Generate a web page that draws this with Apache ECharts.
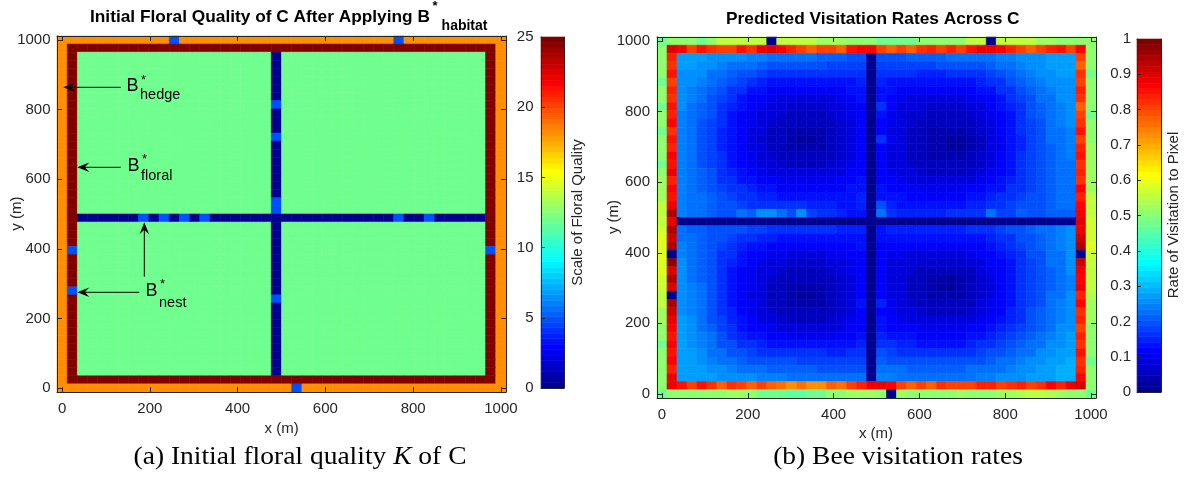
<!DOCTYPE html>
<html>
<head>
<meta charset="utf-8">
<script src="https://cdn.jsdelivr.net/npm/echarts@6/dist/echarts.min.js"></script>
<style>
  html, body { margin: 0; padding: 0; background: #ffffff; }
  #chart { width: 1189px; height: 480px; }
</style>
</head>
<body>
<div id="chart"></div>
<script>
// ---------------------------------------------------------------
// Landscape C: a 44 x 44 grid of pixels spanning 0..1000 m
// ---------------------------------------------------------------
const N = 44;
const CELL = 1000 / (N - 1);
const ROAD_COL = 21;
const ROAD_ROW = 22;

const axisTickValues = [0, 200, 400, 600, 800, 1000];
const floralScaleMax = 25;
const visitScaleMax = 1;

// Floral quality K, rows listed top -> bottom, run-length coded.
// o = field edge, h = hedgerow, f = floral field, r = road, n = nest
const floralLevels = { o: 18, h: 25, f: 12, r: 0, n: 5 };
const FIELD_ROW = 'o1 h1 f19 r1 f20 h1 o1';
const ROAD_NEST_ROW = 'o1 h1 f19 n1 f20 h1 o1';
const floralRuns = [
  'o11 n1 o21 n1 o10',
  'o1 h42 o1',
  FIELD_ROW, FIELD_ROW, FIELD_ROW, FIELD_ROW, FIELD_ROW, FIELD_ROW,
  ROAD_NEST_ROW,
  FIELD_ROW, FIELD_ROW, FIELD_ROW,
  ROAD_NEST_ROW,
  FIELD_ROW, FIELD_ROW, FIELD_ROW, FIELD_ROW, FIELD_ROW, FIELD_ROW, FIELD_ROW,
  ROAD_NEST_ROW,
  ROAD_NEST_ROW,
  'o1 h1 r6 n1 r1 n1 r1 n1 r1 n1 r18 n1 r2 n1 r5 h1 o1',
  FIELD_ROW, FIELD_ROW, FIELD_ROW,
  'o1 n1 f19 r1 f20 n1 o1',
  FIELD_ROW, FIELD_ROW, FIELD_ROW, FIELD_ROW,
  'o1 n1 f19 r1 f20 h1 o1',
  ROAD_NEST_ROW,
  FIELD_ROW, FIELD_ROW, FIELD_ROW, FIELD_ROW, FIELD_ROW, FIELD_ROW, FIELD_ROW, FIELD_ROW, FIELD_ROW,
  'o1 h42 o1',
  'o23 n1 o20'
];

// Predicted visitation rate (percent of 1)
const visitRoad = 1;
// outer ring: top/bottom rows left -> right, side columns top -> bottom (rows 1..42)
const visitEdgeTop = '48 50 50 50 48 50 56 56 56 55 55 1 56 56 55 55 52 52 52 50 50 50 48 48 48 48 50 50 50 50 50 56 56 1 56 56 56 55 52 52 50 50 50 50';
const visitEdgeBottom = '48 50 50 50 50 50 50 52 52 50 48 48 47 46 46 47 48 50 50 52 52 52 50 1 52 50 50 50 50 50 52 50 50 50 52 52 54 56 56 54 52 50 50 48';
const visitEdgeLeft = '50 50 50 50 48 50 50 48 50 50 48 50 50 50 48 50 52 52 53 55 56 56 57 58 58 58 58 58 57 57 56 55 53 52 50 50 48 50 50 50 50 50';
const visitEdgeRight = '50 50 50 48 50 50 50 50 48 50 50 50 52 52 52 52 53 53 55 56 56 57 57 57 58 57 56 55 55 55 54 53 52 52 50 50 50 50 48 50 50 50';
// hedgerow ring: top/bottom cols 1..42, sides rows 2..41
const visitHedgeTop = '90 86 80 85 82 80 80 85 82 88 90 87 83 80 78 81 80 78 85 86 87 81 78 80 78 82 83 81 83 81 85 88 88 86 83 81 78 81 83 85 81 86';
const visitHedgeBottom = '88 85 80 85 82 78 82 80 77 80 78 75 73 75 72 73 77 75 80 84 88 88 87 80 77 80 78 82 81 80 81 84 83 81 82 84 80 82 86 84 88 92';
const visitHedgeLeft = '84 82 85 80 84 82 85 83 86 82 85 84 87 85 88 83 86 85 88 95 89 94 91 94 1 97 90 94 90 1 94 91 88 86 85 87 85 86 84 88';
const visitHedgeRight = '80 78 82 80 84 82 78 80 82 85 80 83 85 82 84 82 86 84 87 88 90 89 91 95 1 91 88 86 88 84 86 82 84 80 84 82 85 82 84 87';
// field quadrants (rows top -> bottom)
const visitFieldNW = [
  '27 27 27 26 26 25 25 24 24 23 23 22 22 22 21 21 21 20 20',
  '27 27 26 25 24 23 22 22 21 20 20 19 19 19 19 18 18 18 18',
  '26 26 25 23 22 21 20 19 18 17 17 16 16 16 16 16 16 16 16',
  '26 25 24 22 21 19 18 16 15 14 14 13 13 13 13 13 14 14 15',
  '25 24 23 21 19 17 16 14 13 12 11 11 11 11 11 11 12 13 14',
  '25 24 22 20 18 16 14 12 11 10 9 9 9 9 9 9 10 11 13',
  '25 23 21 19 17 15 13 11 10 9 8 7 7 7 7 8 9 10 12',
  '24 23 21 19 16 14 12 10 9 8 7 6 6 6 6 7 8 10 12',
  '24 22 20 18 16 13 11 10 8 7 6 5 5 5 5 6 7 9 11',
  '24 22 20 18 15 13 11 9 8 6 5 4 4 4 4 5 7 9 11',
  '24 22 20 18 15 13 11 9 7 6 5 4 3 3 4 5 7 9 11',
  '24 22 20 18 15 13 11 9 8 6 5 4 4 4 4 5 7 9 11',
  '24 22 20 18 16 13 11 10 8 7 6 5 5 5 5 6 7 9 11',
  '24 22 20 18 16 14 12 10 9 8 7 6 6 6 6 7 8 10 12',
  '24 22 21 19 17 15 13 11 10 9 8 8 8 8 8 8 9 11 12',
  '24 23 21 19 17 16 14 13 12 11 10 10 10 10 10 10 11 12 13',
  '24 23 21 20 18 17 16 15 14 13 12 12 12 12 12 12 12 13 14',
  '24 23 22 21 19 18 17 16 15 15 14 14 14 14 14 13 13 14 15',
  '24 23 22 21 20 19 18 17 17 16 16 16 16 15 15 15 14 14 15',
  '24 23 22 21 20 20 22 21 26 25 23 20 25 18 17 16 15 14 14'
];
const visitFieldNE = [
  '20 20 20 21 21 21 21 22 22 22 23 23 24 24 25 25 26 27 27 27',
  '18 18 18 18 18 18 19 19 19 20 20 21 22 23 24 25 26 27 28 27',
  '16 16 16 16 15 15 15 16 16 17 17 18 19 21 22 24 25 26 27 27',
  '15 14 14 13 13 13 13 13 14 14 15 16 17 19 21 22 24 25 26 26',
  '14 13 12 11 11 11 11 11 11 12 13 14 16 17 19 21 23 24 25 26',
  '13 11 10 9 9 9 9 9 9 10 11 12 14 16 18 20 22 23 25 25',
  '16 11 9 8 8 7 7 7 7 8 9 11 13 15 17 19 21 23 24 25',
  '13 10 9 7 7 6 6 6 6 7 8 10 12 14 17 19 21 22 24 25',
  '12 10 8 7 6 5 5 5 5 6 7 9 11 14 16 18 20 22 24 25',
  '12 9 8 6 5 4 4 4 4 5 7 9 11 13 16 18 20 22 23 24',
  '17 10 8 6 5 4 4 3 3 4 6 8 10 13 15 18 20 22 23 24',
  '12 9 8 6 5 4 4 3 3 4 6 8 10 13 15 18 20 21 23 24',
  '11 9 8 6 5 4 4 4 4 5 7 9 11 13 16 18 20 21 23 24',
  '11 9 8 7 6 5 5 5 5 6 7 9 11 14 16 18 20 21 22 23',
  '12 10 9 8 7 6 6 6 6 7 8 10 12 14 16 18 19 21 22 23',
  '12 11 10 9 8 8 8 8 8 9 10 11 13 15 17 18 19 21 22 23',
  '13 12 11 11 10 10 10 10 10 11 12 13 14 16 17 18 20 21 22 22',
  '14 13 13 12 12 12 12 12 12 13 14 15 16 17 18 19 20 21 22 22',
  '19 15 14 14 14 14 14 14 14 15 15 16 17 18 19 20 20 21 22 22',
  '22 16 15 15 15 15 15 16 16 16 17 22 18 18 21 19 20 21 21 21'
];
const visitFieldSW = [
  '22 21 21 20 20 19 19 18 18 17 17 17 16 16 16 16 15 15 15',
  '23 22 21 20 19 18 17 16 15 15 14 14 14 14 14 14 14 14 14',
  '24 22 21 20 18 17 15 14 13 12 12 12 11 11 11 12 12 12 13',
  '24 23 21 19 17 16 14 12 11 10 10 9 9 9 9 10 10 11 12',
  '25 23 21 19 17 15 13 11 10 9 8 7 7 7 7 8 9 10 12',
  '25 23 21 19 16 14 12 10 9 8 7 6 6 6 6 7 8 10 11',
  '25 23 21 19 16 14 12 10 8 7 6 5 5 5 5 6 7 9 11',
  '26 24 22 19 16 14 12 10 8 6 5 4 4 4 4 5 7 9 11',
  '26 24 22 19 16 14 11 9 8 6 5 4 3 3 4 5 7 9 11',
  '26 24 22 19 17 14 12 10 8 6 5 4 4 4 4 5 7 9 13',
  '26 24 22 20 17 15 12 10 8 7 6 5 5 5 5 6 7 9 11',
  '27 25 23 20 18 15 13 11 9 8 7 6 6 6 6 7 8 10 12',
  '27 25 23 21 18 16 14 12 11 10 9 8 8 8 8 8 9 11 12',
  '27 26 24 22 19 17 15 14 13 12 11 10 10 10 10 10 11 12 13',
  '28 26 24 22 20 19 17 16 15 14 13 13 13 13 13 13 13 14 15',
  '28 27 25 23 22 20 19 18 17 16 16 16 16 16 16 15 15 16 16',
  '28 27 26 24 23 22 21 20 19 19 19 19 18 18 18 18 18 18 18',
  '28 28 27 26 25 24 23 22 22 21 21 21 21 21 20 20 20 20 20',
  '28 28 27 27 26 26 25 25 24 24 24 23 23 23 23 22 22 22 22'
];
const visitFieldSE = [
  '14 15 15 15 15 15 15 15 15 16 16 17 18 19 20 21 22 23 24 25',
  '13 13 13 13 13 13 13 13 13 14 14 15 16 17 19 20 21 23 24 25',
  '12 11 11 11 11 11 11 11 11 12 12 13 15 16 18 19 21 22 24 25',
  '12 10 10 9 9 9 9 9 9 10 11 12 13 15 17 19 20 22 23 25',
  '11 9 9 8 7 7 7 7 7 8 9 11 12 14 16 18 20 22 23 25',
  '11 9 8 7 6 5 5 5 5 6 8 10 12 14 16 18 20 21 23 25',
  '11 9 8 6 5 4 4 3 4 5 7 9 11 13 16 18 20 21 23 24',
  '11 9 8 6 5 4 3 3 4 5 7 9 11 13 16 18 20 21 23 24',
  '11 9 8 6 5 4 4 4 4 5 7 9 11 14 16 18 20 22 23 25',
  '15 10 8 7 6 5 5 5 5 6 8 10 12 14 16 18 20 22 24 25',
  '12 10 9 8 7 6 6 6 6 7 9 10 12 15 17 19 21 22 24 25',
  '13 11 10 9 8 8 8 8 8 9 10 12 13 15 17 19 21 23 24 26',
  '14 12 11 11 10 10 10 10 10 11 12 13 15 16 18 20 21 23 25 26',
  '15 14 13 13 12 12 12 12 12 13 14 15 16 18 19 21 22 24 25 27',
  '17 16 15 15 14 14 14 14 14 15 16 17 18 19 21 22 23 25 26 28',
  '19 18 17 17 17 17 17 17 17 17 18 19 20 21 22 23 25 26 27 28',
  '21 20 20 19 19 19 19 19 19 20 20 21 22 23 24 25 26 27 28 29',
  '22 22 22 21 21 21 21 21 21 22 22 23 23 24 25 26 27 28 29 29',
  '24 24 23 23 23 23 23 23 23 23 24 24 25 25 26 27 28 28 29 29'
];

// ---------------------------------------------------------------
// helpers
// ---------------------------------------------------------------
const FONT = '"Liberation Sans", Arial, Helvetica, sans-serif';
const SERIF = '"Liberation Serif", "Times New Roman", serif';
const INK = '#262626';

function nums(s) { return s.trim().split(/\s+/).map(Number); }

function decodeRuns(s) {
  let out = '';
  s.trim().split(/\s+/).forEach(t => { out += t[0].repeat(Number(t.slice(1))); });
  return out;
}

// MATLAB-style 64-entry jet colour map
const JET = (function () {
  const list = [];
  for (let k = 1; k <= 64; k++) {
    const r = k <= 24 ? 0 : k <= 40 ? (k - 24) / 16 : k <= 56 ? 1 : 1 - (k - 56) / 16;
    const g = k <= 8 ? 0 : k <= 24 ? (k - 8) / 16 : k <= 40 ? 1 : k <= 55 ? (56 - k) / 16 : 0;
    const b = k <= 8 ? (k + 8) / 16 : k <= 24 ? 1 : k <= 39 ? (40 - k) / 16 : 0;
    list.push('rgb(' + Math.round(r * 255) + ',' + Math.round(g * 255) + ',' + Math.round(b * 255) + ')');
  }
  return list;
})();
function jetColor(t) {
  return JET[Math.max(0, Math.min(63, Math.floor(t * 64)))];
}

// floral grid -> [x, y, K]
const floralCells = [];
floralRuns.forEach((runs, r) => {
  const row = decodeRuns(runs);
  for (let c = 0; c < N; c++) {
    floralCells.push([c * CELL, (N - 1 - r) * CELL, floralLevels[row[c]]]);
  }
});

// visitation grid assembled from its rings, roads and field quadrants
const visitGrid = Array.from({ length: N }, () => new Array(N).fill(visitRoad));
nums(visitEdgeTop).forEach((v, c) => { visitGrid[0][c] = v; });
nums(visitEdgeBottom).forEach((v, c) => { visitGrid[N - 1][c] = v; });
nums(visitEdgeLeft).forEach((v, i) => { visitGrid[1 + i][0] = v; });
nums(visitEdgeRight).forEach((v, i) => { visitGrid[1 + i][N - 1] = v; });
nums(visitHedgeTop).forEach((v, i) => { visitGrid[1][1 + i] = v; });
nums(visitHedgeBottom).forEach((v, i) => { visitGrid[N - 2][1 + i] = v; });
nums(visitHedgeLeft).forEach((v, i) => { visitGrid[2 + i][1] = v; });
nums(visitHedgeRight).forEach((v, i) => { visitGrid[2 + i][N - 2] = v; });
function placeBlock(rows, r0, c0) {
  rows.forEach((s, i) => nums(s).forEach((v, j) => { visitGrid[r0 + i][c0 + j] = v; }));
}
placeBlock(visitFieldNW, 2, 2);
placeBlock(visitFieldNE, 2, ROAD_COL + 1);
placeBlock(visitFieldSW, ROAD_ROW + 1, 2);
placeBlock(visitFieldSE, ROAD_ROW + 1, ROAD_COL + 1);
const visitCells = [];
visitGrid.forEach((row, r) => row.forEach((v, c) => {
  visitCells.push([c * CELL, (N - 1 - r) * CELL, v / 100]);
}));

// colour-bar bands
function colorBands(max) {
  const out = [];
  for (let k = 0; k < 64; k++) out.push([0.5, (k + 0.5) * max / 64, k]);
  return out;
}

function cellRenderer(max) {
  return function (params, api) {
    const x = api.value(0), y = api.value(1), v = api.value(2);
    const a = api.coord([x - CELL / 2, y + CELL / 2]);
    const b = api.coord([x + CELL / 2, y - CELL / 2]);
    const fill = jetColor(v / max);
    return {
      type: 'rect',
      shape: { x: a[0], y: a[1], width: b[0] - a[0], height: b[1] - a[1] },
      style: { fill: fill, stroke: fill, lineWidth: 0.6 }
    };
  };
}
function bandRenderer(max) {
  return function (params, api) {
    const k = api.value(2);
    const a = api.coord([0, (k + 1) * max / 64]);
    const b = api.coord([1, k * max / 64]);
    const fill = JET[k];
    return {
      type: 'rect',
      shape: { x: a[0], y: a[1], width: b[0] - a[0], height: b[1] - a[1] },
      style: { fill: fill, stroke: fill, lineWidth: 0.6 }
    };
  };
}

// ---------------------------------------------------------------
// axes
// ---------------------------------------------------------------
const LO = -CELL / 2, HI = 1000 + CELL / 2;
const lineStyle = { color: INK, width: 1 };
const labelStyle = { color: INK, fontSize: 15, fontFamily: FONT };
const plainNumber = v => String(Math.round(v * 10) / 10);

function mapAxis(gridIndex, position, withLabels, margin) {
  return {
    type: 'value', gridIndex: gridIndex, position: position, min: LO, max: HI, z: 10,
    axisLine: { show: true, onZero: false, lineStyle: lineStyle },
    axisTick: { show: true, inside: true, length: 5, lineStyle: lineStyle, customValues: axisTickValues },
    axisLabel: withLabels
      ? Object.assign({ show: true, margin: margin, customValues: axisTickValues, formatter: plainNumber }, labelStyle)
      : { show: false },
    splitLine: { show: false }
  };
}
function barFrameX(gridIndex, position) {
  return {
    type: 'value', gridIndex: gridIndex, position: position, min: 0, max: 1, z: 10,
    axisLine: { show: true, onZero: false, lineStyle: lineStyle },
    axisTick: { show: false }, axisLabel: { show: false }, splitLine: { show: false }
  };
}
function barScaleY(gridIndex, max, step, margin) {
  return {
    type: 'value', gridIndex: gridIndex, position: 'left', min: 0, max: max, interval: step, z: 10,
    axisLine: { show: true, onZero: false, lineStyle: lineStyle },
    axisTick: { show: true, inside: true, length: 4, lineStyle: lineStyle },
    axisLabel: Object.assign({ show: true, margin: margin, formatter: plainNumber }, labelStyle),
    splitLine: { show: false }
  };
}
function barFrameY(gridIndex, max) {
  return {
    type: 'value', gridIndex: gridIndex, position: 'right', min: 0, max: max, z: 10,
    axisLine: { show: true, onZero: false, lineStyle: lineStyle },
    axisTick: { show: false }, axisLabel: { show: false }, splitLine: { show: false }
  };
}

// ---------------------------------------------------------------
// text and annotations
// ---------------------------------------------------------------
const measureCtx = document.createElement('canvas').getContext('2d');
function textWidth(str, font) { measureCtx.font = font; return measureCtx.measureText(str).width; }

function label(text, x, y, size, opts) {
  opts = opts || {};
  return {
    type: 'text', x: x, y: y, rotation: opts.rotation || 0, scaleX: opts.scaleX || 1, z: 100,
    style: {
      text: text, fill: opts.color || '#000', fontSize: size,
      fontFamily: opts.family || FONT, fontWeight: opts.weight || 'normal',
      align: opts.align || 'left', verticalAlign: 'middle', rich: opts.rich
    }
  };
}
function arrow(x1, y1, x2, y2) {
  const ang = Math.atan2(y2 - y1, x2 - x1);
  const L = 12, W = 9.5, notch = 7.5;
  const cos = Math.cos(ang), sin = Math.sin(ang);
  const pt = (back, side) => [x2 - back * cos - side * sin, y2 - back * sin + side * cos];
  return [
    { type: 'line', z: 100, shape: { x1: x1, y1: y1, x2: pt(notch, 0)[0], y2: pt(notch, 0)[1] },
      style: { stroke: '#000', lineWidth: 1 } },
    { type: 'polygon', z: 100, shape: { points: [[x2, y2], pt(L, W / 2), pt(notch, 0), pt(L, -W / 2)] },
      style: { fill: '#000' } }
  ];
}
function starred(base, sub, x, yB, ySup, ySub, bSize, sSize) {
  const w = textWidth(base, bSize + 'px ' + FONT);
  return [
    label(base, x, yB, bSize),
    label('*', x + w + 2.5, ySup, 13),
    label(sub, x + w + 1.5, ySub, sSize)
  ];
}

const TITLE_SIZE = 17.3;
const titleFont = 'bold ' + TITLE_SIZE + 'px ' + FONT;
const leftTitle = 'Initial Floral Quality of C After Applying B';
const leftTitleW = textWidth(leftTitle, titleFont);

const graphics = [].concat(
  [
    label(leftTitle, 90, 16.9, TITLE_SIZE, { weight: 'bold' }),
    label('*', 90 + leftTitleW + 2.7, 6.5, 13, { weight: 'bold' }),
    label('habitat', 90 + leftTitleW + 11.7, 25.9, 14, { weight: 'bold' }),
    label('Predicted Visitation Rates Across C', 872.8, 19.7, TITLE_SIZE, { weight: 'bold', align: 'center' }),

    label('x (m)', 281.7, 429, 15, { color: INK, align: 'center' }),
    label('x (m)', 876, 434, 15, { color: INK, align: 'center' }),
    label('y (m)', 16.5, 213.7, 15, { color: INK, align: 'center', rotation: Math.PI / 2 }),
    label('y (m)', 613.5, 217, 15, { color: INK, align: 'center', rotation: Math.PI / 2 }),
    label('Scale of Floral Quality', 578, 212.5, 15, { color: INK, align: 'center', rotation: Math.PI / 2 }),
    label('Rate of Visitation to Pixel', 1174, 215, 15, { color: INK, align: 'center', rotation: Math.PI / 2 }),

    label('(a) Initial floral quality {it|K} of C', 300, 457, 25, {
      align: 'center', family: SERIF, scaleX: 1.1,
      rich: { it: { fontStyle: 'italic', fontSize: 25, fontFamily: SERIF } }
    }),
    label('(b) Bee visitation rates', 898, 457, 25, { align: 'center', family: SERIF, scaleX: 1.1 })
  ],
  starred('B', 'hedge', 126.5, 86.3, 80.5, 94.5, 18, 14.5),
  starred('B', 'floral', 127.5, 166.3, 159, 176, 18, 14.5),
  starred('B', 'nest', 145.5, 290.8, 284, 303, 18, 14.5),
  arrow(120.7, 87.3, 63.3, 87.3),
  arrow(120.7, 167.3, 77.3, 167.3),
  arrow(139.3, 292.3, 77.3, 292.3),
  arrow(144.3, 276.7, 144.3, 222.3)
);

// ---------------------------------------------------------------
// chart
// ---------------------------------------------------------------
const chart = echarts.init(document.getElementById('chart'), null, { renderer: 'canvas' });
chart.setOption({
  animation: false,
  backgroundColor: '#ffffff',
  textStyle: { fontFamily: FONT },
  grid: [
    { left: 57, top: 36, width: 449, height: 356 },
    { left: 541, top: 37, width: 23, height: 351 },
    { left: 657, top: 37, width: 439, height: 361 },
    { left: 1137, top: 39, width: 24, height: 353 }
  ],
  xAxis: [
    mapAxis(0, 'bottom', true, 9),
    mapAxis(0, 'top', false),
    barFrameX(1, 'bottom'),
    barFrameX(1, 'top'),
    mapAxis(2, 'bottom', true, 9),
    mapAxis(2, 'top', false),
    barFrameX(3, 'bottom'),
    barFrameX(3, 'top')
  ],
  yAxis: [
    mapAxis(0, 'left', true, 6.5),
    mapAxis(0, 'right', false),
    barScaleY(1, floralScaleMax, 5, 7.5),
    barFrameY(1, floralScaleMax),
    mapAxis(2, 'left', true, 7),
    mapAxis(2, 'right', false),
    barScaleY(3, visitScaleMax, 0.1, 6),
    barFrameY(3, visitScaleMax)
  ],
  series: [
    { type: 'custom', name: 'Floral quality', xAxisIndex: 0, yAxisIndex: 0, data: floralCells,
      encode: { x: 0, y: 1 }, renderItem: cellRenderer(floralScaleMax), clip: false, silent: true },
    { type: 'custom', name: 'Floral scale', xAxisIndex: 2, yAxisIndex: 2, data: colorBands(floralScaleMax),
      encode: { x: 0, y: 1 }, renderItem: bandRenderer(floralScaleMax), clip: false, silent: true },
    { type: 'custom', name: 'Visitation', xAxisIndex: 4, yAxisIndex: 4, data: visitCells,
      encode: { x: 0, y: 1 }, renderItem: cellRenderer(visitScaleMax), clip: false, silent: true },
    { type: 'custom', name: 'Visitation scale', xAxisIndex: 6, yAxisIndex: 6, data: colorBands(visitScaleMax),
      encode: { x: 0, y: 1 }, renderItem: bandRenderer(visitScaleMax), clip: false, silent: true }
  ],
  graphic: graphics
});
</script>
</body>
</html>
